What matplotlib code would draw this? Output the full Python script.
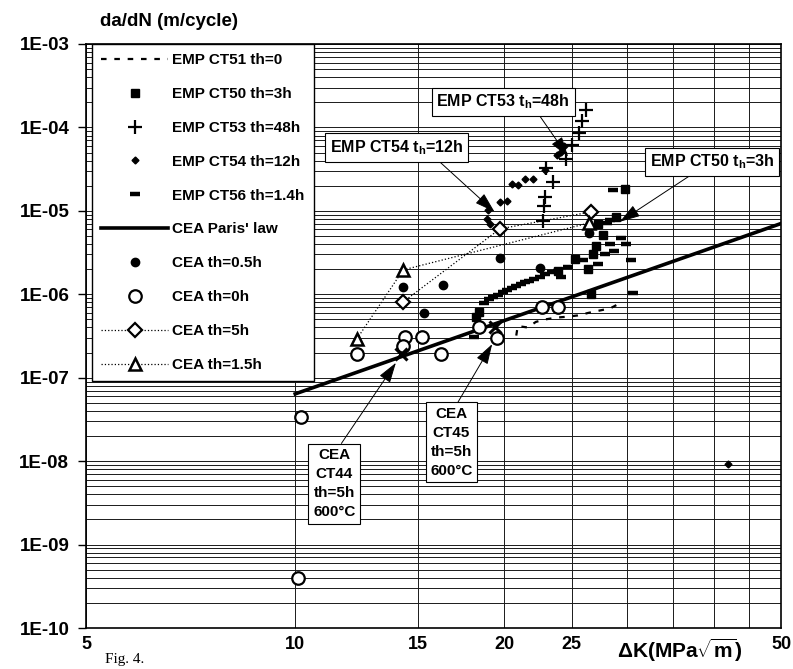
import numpy as np
import matplotlib
matplotlib.use('Agg')
import matplotlib.pyplot as plt
from matplotlib.ticker import FixedLocator, FixedFormatter, NullFormatter

plt.rcParams['font.family'] = ['Liberation Sans', 'DejaVu Sans']
plt.rcParams['font.weight'] = 'bold'
plt.rcParams['mathtext.fontset'] = 'custom'
plt.rcParams['mathtext.rm'] = 'Liberation Sans:bold'
plt.rcParams['mathtext.bf'] = 'Liberation Sans:bold'
plt.rcParams['mathtext.it'] = 'Liberation Sans:bold'

# ---------------- data ----------------
ct51_K = [20.8, 20.9, 21.6, 22.2, 22.9, 23.8, 24.7, 25.5, 26.4, 27.3, 28.4, 29.3]
ct51_da = [3.2e-7, 4.16e-7, 4.0e-7, 4.67e-7, 5.0e-7, 5.26e-7, 5.4e-7, 5.58e-7, 5.98e-7, 6.34e-7, 6.78e-7, 7.8e-7]

ct50_K = [18.2, 18.4, 25.3, 26.4, 26.8, 27.1, 27.7, 27.3, 26.6, 28.9, 29.8, 23.9]
ct50_da = [5.3e-7, 6.2e-7, 2.67e-6, 2.0e-6, 3.0e-6, 3.8e-6, 5.1e-6, 6.9e-6, 1.0e-6, 8.4e-6, 1.85e-5, 1.9e-6]

ct53_K = [22.7, 22.8, 22.85, 23.5, 22.98, 24.55, 25.0, 25.6, 25.9, 26.2]
ct53_da = [7.65e-6, 1.14e-5, 1.48e-5, 2.24e-5, 3.23e-5, 4.2e-5, 6.2e-5, 8.6e-5, 1.2e-4, 1.64e-4]

ct54_K = [18.9, 19.05, 18.95, 19.7, 20.2, 20.5, 20.9, 21.4, 22.0, 22.85, 23.8, 24.15, 24.4, 41.9]
ct54_da = [8.0e-6, 6.97e-6, 1.03e-5, 1.27e-5, 1.33e-5, 2.12e-5, 2.02e-5, 2.39e-5, 2.4e-5, 3.08e-5, 4.7e-5, 5.14e-5, 5.92e-5, 9.2e-9]

ct56_K = [18.1, 18.7, 19.0, 19.25, 19.6, 19.9, 20.2, 20.5, 20.75, 21.1, 21.4, 21.7, 22.05, 22.5, 22.9,
          23.4, 23.9, 24.15, 24.7, 25.96, 29.4, 28.4, 28.8, 27.9, 27.3, 30.4, 30.6, 29.9, 28.1, 28.4, 28.7]
ct56_da = [3.1e-7, 7.9e-7, 8.9e-7, 9.2e-7, 9.8e-7, 1.06e-6, 1.14e-6, 1.2e-6, 1.27e-6, 1.33e-6, 1.39e-6, 1.46e-6,
           1.53e-6, 1.62e-6, 1.73e-6, 1.84e-6, 1.9e-6, 1.6e-6, 2.1e-6, 2.6e-6, 4.7e-6, 4.04e-6, 3.3e-6, 3.07e-6,
           2.28e-6, 2.57e-6, 1.03e-6, 4.06e-6, 7.2e-6, 7.7e-6, 1.77e-5]

paris_K = [10, 50]
paris_da = [6.4e-8, 7.05e-6]

cea05_K = [14.3, 15.3, 16.3, 19.7, 22.5, 26.5]
cea05_da = [1.21e-6, 6.0e-7, 1.31e-6, 2.7e-6, 2.05e-6, 5.45e-6]

cea0_K = [12.27, 14.4, 15.2, 14.3, 16.2, 18.4, 19.5, 22.65, 23.9, 10.2, 10.1]
cea0_da = [1.94e-7, 3.05e-7, 3.07e-7, 2.4e-7, 1.9e-7, 4.0e-7, 2.97e-7, 6.97e-7, 7.0e-7, 3.4e-8, 4.0e-10]

cea5_K = [14.3, 19.7, 26.6]
cea5_da = [8.1e-7, 6.08e-6, 9.7e-6]

cea15_K = [12.27, 14.3, 26.5]
cea15_da = [2.93e-7, 1.96e-6, 7.18e-6]

ceaX_K = [14.2, 19.4]
ceaX_da = [1.93e-7, 4.0e-7]

labels = ['EMP CT51 th=0', 'EMP CT50 th=3h', 'EMP CT53 th=48h', 'EMP CT54 th=12h', 'EMP CT56 th=1.4h',
          "CEA Paris' law", 'CEA th=0.5h', 'CEA th=0h', 'CEA th=5h', 'CEA th=1.5h']

xticks = [5, 10, 15, 20, 25, 50]
xtick_labels = ['5', '10', '15', '20', '25', '50']
xgrid_minor = [30, 35, 40, 45]
yticks = [1e-10, 1e-9, 1e-8, 1e-7, 1e-6, 1e-5, 1e-4, 1e-3]
ytick_labels = ['1E-10', '1E-09', '1E-08', '1E-07', '1E-06', '1E-05', '1E-04', '1E-03']
ygrid_minor = [m * d for d in yticks[:-1] for m in range(2, 10)]

# ---------------- figure ----------------
W, H = 793, 669
fig = plt.figure(figsize=(W / 100, H / 100), dpi=100)
ax = fig.add_axes([86 / W, 1 - 628 / H, 695 / W, 584 / H])
ax.set_xscale('log')
ax.set_yscale('log')
ax.set_xlim(5, 50)
ax.set_ylim(1e-10, 1e-3)

ax.xaxis.set_major_locator(FixedLocator(xticks))
ax.xaxis.set_major_formatter(FixedFormatter(xtick_labels))
ax.xaxis.set_minor_locator(FixedLocator(xgrid_minor))
ax.xaxis.set_minor_formatter(NullFormatter())
ax.yaxis.set_major_locator(FixedLocator(yticks))
ax.yaxis.set_major_formatter(FixedFormatter(ytick_labels))
ax.yaxis.set_minor_locator(FixedLocator(ygrid_minor))
ax.yaxis.set_minor_formatter(NullFormatter())
ax.tick_params(axis='x', which='both', length=0, pad=6, labelsize=13)
ax.tick_params(axis='y', which='major', length=6, width=1, pad=6, labelsize=13.5)
ax.tick_params(axis='y', which='minor', length=0)
ax.grid(True, which='both', axis='both', color='#1a1a1a', lw=0.7)
ax.set_axisbelow(True)
for s in ax.spines.values():
    s.set_linewidth(1.2)

k = 'black'
h51, = ax.plot(ct51_K, ct51_da, ls=(0, (2.5, 3.5)), color=k, lw=1.6, zorder=3)
h50, = ax.plot(ct50_K, ct50_da, ls='none', marker='s', ms=5.5, color=k, zorder=3)
h53, = ax.plot(ct53_K, ct53_da, ls='none', marker='+', ms=10, mew=1.6, color=k, zorder=3)
h54, = ax.plot(ct54_K, ct54_da, ls='none', marker='D', ms=3.5, color=k, zorder=3)
h56, = ax.plot(ct56_K, ct56_da, ls='none', marker='_', ms=7, mew=3.2, color=k, zorder=3)
hp, = ax.plot(paris_K, paris_da, ls='-', color=k, lw=2.6, zorder=3)
h05, = ax.plot(cea05_K, cea05_da, ls='none', marker='o', ms=6, color=k, zorder=3)
h0, = ax.plot(cea0_K, cea0_da, ls='none', marker='o', ms=9, mfc='white', mec=k, mew=1.6, zorder=4)
h5, = ax.plot(cea5_K, cea5_da, ls=':', lw=0.9, marker='D', ms=7, mfc='white', mec=k, mew=1.6, color=k, zorder=4)
h15, = ax.plot(cea15_K, cea15_da, ls=':', lw=0.9, marker='^', ms=8.5, mfc='white', mec=k, mew=1.8, color=k, zorder=4)
ax.plot(ceaX_K, ceaX_da, ls='none', marker='x', ms=9, mew=2.2, color=k, zorder=5)

handles = [h51, h50, h53, h54, h56, hp, h05, h0, h5, h15]
leg = ax.legend(handles, labels, loc='upper left', bbox_to_anchor=(6 / 695, 1.0), borderaxespad=0,
                frameon=True, fancybox=False, edgecolor='black', framealpha=1, fontsize=11,
                labelspacing=1.3, handlelength=4.4, handletextpad=0.25, borderpad=0.6, numpoints=1)
leg.get_frame().set_linewidth(1.0)
leg.set_zorder(10)

# ---------------- annotations ----------------
def px2data(px, py):
    K = 10 ** ((px - 86) / 693 + np.log10(5))
    da = 10 ** (-3 - (py - 44) / 83.4)
    return K, da

box = dict(boxstyle='square,pad=0.3', fc='white', ec='black', lw=0.8)

def note(text, tip, center, relpos, fs=11.5, ls=1.2):
    arrow = dict(arrowstyle='-|>,head_length=0.7,head_width=0.22', color='black', lw=0.7,
                 mutation_scale=18, relpos=relpos, shrinkA=0, shrinkB=0)
    ax.annotate(text, xy=px2data(*tip), xytext=px2data(*center), textcoords='data',
                ha='center', va='center', fontsize=fs, linespacing=ls, bbox=box,
                arrowprops=arrow, zorder=8)

note(r'EMP CT53 t$_\mathbf{h}$=48h', (566.7, 156.7), (502, 102), (0.75, 0))
note(r'EMP CT54 t$_\mathbf{h}$=12h', (493.3, 211.7), (396, 147.5), (0.78, 0))
note(r'EMP CT50 t$_\mathbf{h}$=3h', (618.3, 221.7), (710, 161.7), (0.38, 0))
note('CEA\nCT44\nth=5h\n600°C', (395, 362.7), (333.5, 483.7), (0.59, 1), fs=11, ls=1.45)
note('CEA\nCT45\nth=5h\n600°C', (491, 344), (450.3, 442.2), (0.59, 1), fs=11, ls=1.45)

# ---------------- texts ----------------
fig.text(100 / W, 1 - 22 / H, 'da/dN (m/cycle)', fontsize=13.5, ha='left', va='center')
fig.text(680 / W, 1 - 650 / H, r'ΔK(MPa$\sqrt{\mathbf{m}}$)', fontsize=15, ha='center', va='center')
fig.text(105 / W, 1 - 659 / H, 'Fig. 4.', fontsize=11, fontweight='normal',
         family=['Liberation Serif', 'DejaVu Serif'], ha='left', va='center')

fig.savefig('out.png', dpi=100)
